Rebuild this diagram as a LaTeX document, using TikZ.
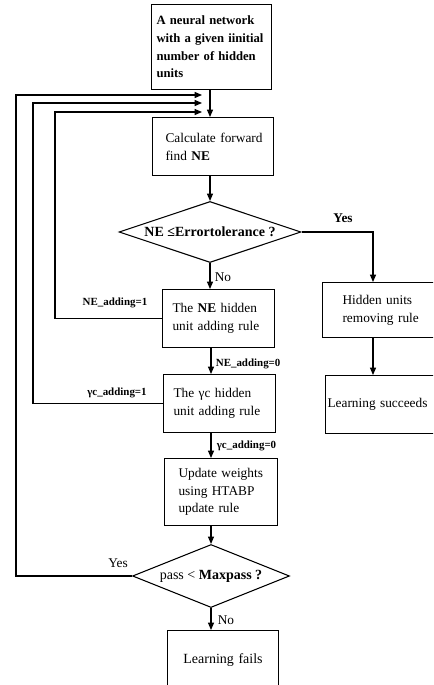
\documentclass[tikz,border=0pt]{standalone}
\usepackage{fontspec}
\setmainfont{Liberation Serif}
\usetikzlibrary{shapes.geometric,arrows.meta}
\begin{document}
\begin{tikzpicture}[x=0.75pt,y=-0.75pt,
  line width=0.8pt,
  box/.style={draw, rectangle, anchor=north west, align=left, inner ysep=0pt,
    font=\fontsize{10}{13.3}\selectfont},
  dec/.style={draw, diamond, aspect=3, inner sep=0pt, font=\fontsize{10.5}{12}\selectfont},
  arr/.style={-{Triangle[length=5.5pt,width=4.5pt]}},
  lab/.style={font=\bfseries\fontsize{8.2}{10}\selectfont, inner sep=1pt},
  txt/.style={font=\fontsize{10}{12}\selectfont, inner sep=1pt}]
\clip (0,0) rectangle (433,685);
\fill[white] (0,0) rectangle (433,685);

% boxes
\node[box, minimum width=90pt, minimum height=63.75pt, inner xsep=3.75pt, text width=82.5pt,
  font=\bfseries\fontsize{9.5}{13.3}\selectfont] (b1) at (151,4)
  {\mbox{A neural network}\\\mbox{with a given iinitial}\\\mbox{number of hidden}\\units};
\node[box, minimum width=90.75pt, minimum height=43.5pt, inner xsep=9.75pt, text width=71.25pt] (b2) at (152,117)
  {\mbox{Calculate forward}\\find \textbf{NE}};
\node[dec, minimum width=136.5pt, minimum height=45.75pt] (d1) at (210,232)
  {\bfseries NE ≤Errortolerance ?};
\node[box, minimum width=84pt, minimum height=43.5pt, inner xsep=7.5pt, text width=69pt] (b3) at (162,289)
  {\mbox{The \textbf{NE} hidden}\\\mbox{unit adding rule}};
\node[box, minimum width=84pt, minimum height=43.5pt, inner xsep=7.5pt, text width=69pt] (b4) at (163,374)
  {\mbox{The γc hidden}\\\mbox{unit adding rule}};
\node[box, minimum width=84.75pt, minimum height=50.25pt, inner xsep=10.5pt, text width=63.75pt] (b5) at (164,458)
  {\mbox{Update weights}\\\mbox{using HTABP}\\\mbox{update rule}};
\node[dec, minimum width=117.75pt, minimum height=47.25pt] (d2) at (211,576)
  {pass < \textbf{Maxpass ?}};
\node[box, minimum width=83.25pt, minimum height=45pt, inner xsep=3pt, text width=77.25pt, align=center,
  font=\fontsize{10.5}{13.3}\selectfont] (b6) at (167,630)
  {Learning fails};
\node[box, minimum width=97.5pt, minimum height=41.25pt, inner xsep=15pt, text width=67.5pt] (bH) at (322,282)
  {\mbox{Hidden units}\\\mbox{removing rule}};
\node[box, minimum width=97.5pt, minimum height=43.5pt, inner xsep=1.5pt, text width=94.5pt] (bL) at (325,375)
  {\mbox{Learning succeeds}};

% labels
\node[txt, anchor=west] (no1) at (213,277) {No};
\node[txt, font=\bfseries\fontsize{10}{12}\selectfont] (yes1) at (343,218) {Yes};
\node[lab] (ne1) at (115,303) {NE\_adding=1};
\node[lab, anchor=west] (ne0) at (214,364) {NE\_adding=0};
\node[lab] (gc1) at (117,393) {γc\_adding=1};
\node[lab, anchor=west] (gc0) at (215,446) {γc\_adding=0};
\node[txt] (yes2) at (118,563) {Yes};
\node[txt, anchor=west] (no2) at (216,620) {No};

% helper coordinates
\coordinate (m1) at (202,95);
\coordinate (m2) at (202,103);
\coordinate (m3) at (202,112);
\coordinate (c1) at (16,95);
\coordinate (c2) at (33,103);
\coordinate (c3) at (55,112);
\coordinate (rx) at (373,282);

% main column
\draw[arr] (b1.south -| d1.north) -- (b2.north -| d1.north);
\draw[arr] (b2.south -| d1.north) -- (d1.north);
\draw[arr] (d1.south) -- (d1.south |- b3.north);
\draw[arr] (b3.south -| d2.north) -- (b4.north -| d2.north);
\draw[arr] (b4.south -| d2.north) -- (b5.north -| d2.north);
\draw[arr] (b5.south -| d2.north) -- (d2.north);
\draw[arr] (d2.south) -- (d2.south |- b6.north);

% feedback loops
\draw[arr] (b3.west) -| (c3) -- (m3);
\draw[arr] (b4.west) -| (c2) -- (m2);
\draw[arr] (d2.west) -| (c1) -- (m1);

% right branch
\draw[arr] (d1.east) -| (rx);
\draw[arr] (bH.south -| rx) -- (bL.north -| rx);
\end{tikzpicture}
\end{document}
